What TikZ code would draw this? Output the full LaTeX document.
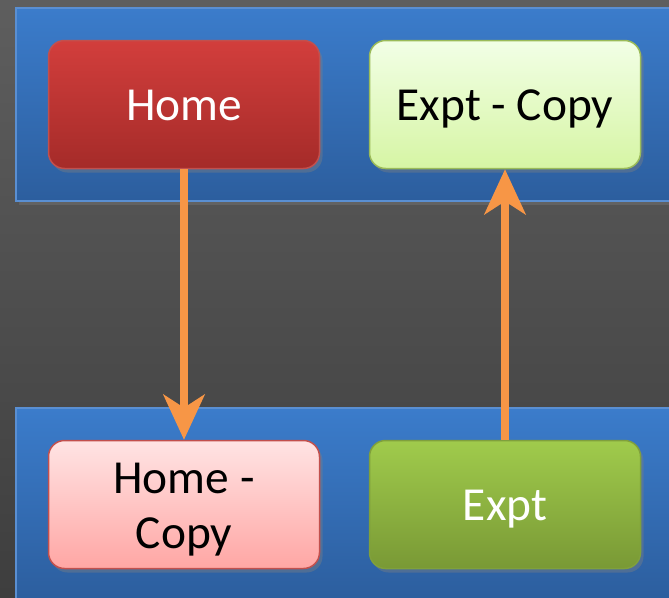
\documentclass[tikz,border=0pt]{standalone}
\usepackage{fontspec}
\setmainfont{Carlito}
\usetikzlibrary{arrows.meta,shadows,shadings}
\newcommand\pstrut{\rule[-0.269em]{0pt}{1.221em}}
\newcommand\tightlines{\lineskiplimit=-100pt\relax}
\definecolor{bgtop}{HTML}{5E5E5E}
\definecolor{bgbot}{HTML}{3E3E3E}
\definecolor{bandtop}{HTML}{3B7CCB}
\definecolor{bandbot}{HTML}{2C5E9E}
\definecolor{bandedge}{HTML}{5A8FD2}
\definecolor{redtop}{HTML}{D23E3C}
\definecolor{redbot}{HTML}{A52B29}
\definecolor{rededge}{HTML}{C2504D}
\definecolor{pinktop}{HTML}{FFE4E4}
\definecolor{pinkbot}{HTML}{FFA6A4}
\definecolor{ltgtop}{HTML}{F2FFE6}
\definecolor{ltgbot}{HTML}{D6F5A4}
\definecolor{greenedge}{HTML}{9BBB59}
\definecolor{grntop}{HTML}{A0CB4C}
\definecolor{grnbot}{HTML}{799935}
\definecolor{arrowc}{HTML}{F79646}
\tikzset{
  band/.style={draw=bandedge, line width=1.2pt, top color=bandtop, bottom color=bandbot,
    drop shadow={shadow xshift=3pt, shadow yshift=-4pt, opacity=.35}},
  box/.style={rectangle, rounded corners=16pt, minimum width=271pt, minimum height=128pt,
    inner sep=0pt, line width=1.5pt, align=center,
    font=\fontsize{47.4}{55}\selectfont\tightlines,
    drop shadow={shadow xshift=3pt, shadow yshift=-4pt, opacity=.4}},
  redbox/.style={box, draw=rededge, top color=redtop, bottom color=redbot, text=white},
  pinkbox/.style={box, draw=rededge, top color=pinktop, bottom color=pinkbot, text=black},
  ltgbox/.style={box, draw=greenedge, top color=ltgtop, bottom color=ltgbot, text=black},
  grnbox/.style={box, draw=grnbot!80!greenedge, top color=grntop, bottom color=grnbot, text=white},
  conn/.style={draw=arrowc, line width=8pt, -{Stealth[length=45pt,width=41pt,inset=13pt]}}
}
\begin{document}
\begin{tikzpicture}[x=1pt,y=-1pt]
\useasboundingbox (0,0) rectangle (669,597);
\fill[top color=bgtop, bottom color=bgbot] (0,0) rectangle (669,597);
\path[band] (16,8) rectangle (672,201);
\path[band] (16,408) rectangle (672,600);
\node[redbox] (home) at (184,104.5) {\pstrut Home};
\node[ltgbox] (exptcopy) at (505,104.5) {\pstrut Expt - Copy};
\node[pinkbox] (homecopy) at (184,504.5) {\pstrut Home -\\\pstrut Copy};
\node[grnbox] (expt) at (505,504.5) {\pstrut Expt};
\draw[conn] (home.south) -- (homecopy.north);
\draw[conn] (expt.north) -- (exptcopy.south);
\end{tikzpicture}
\end{document}
